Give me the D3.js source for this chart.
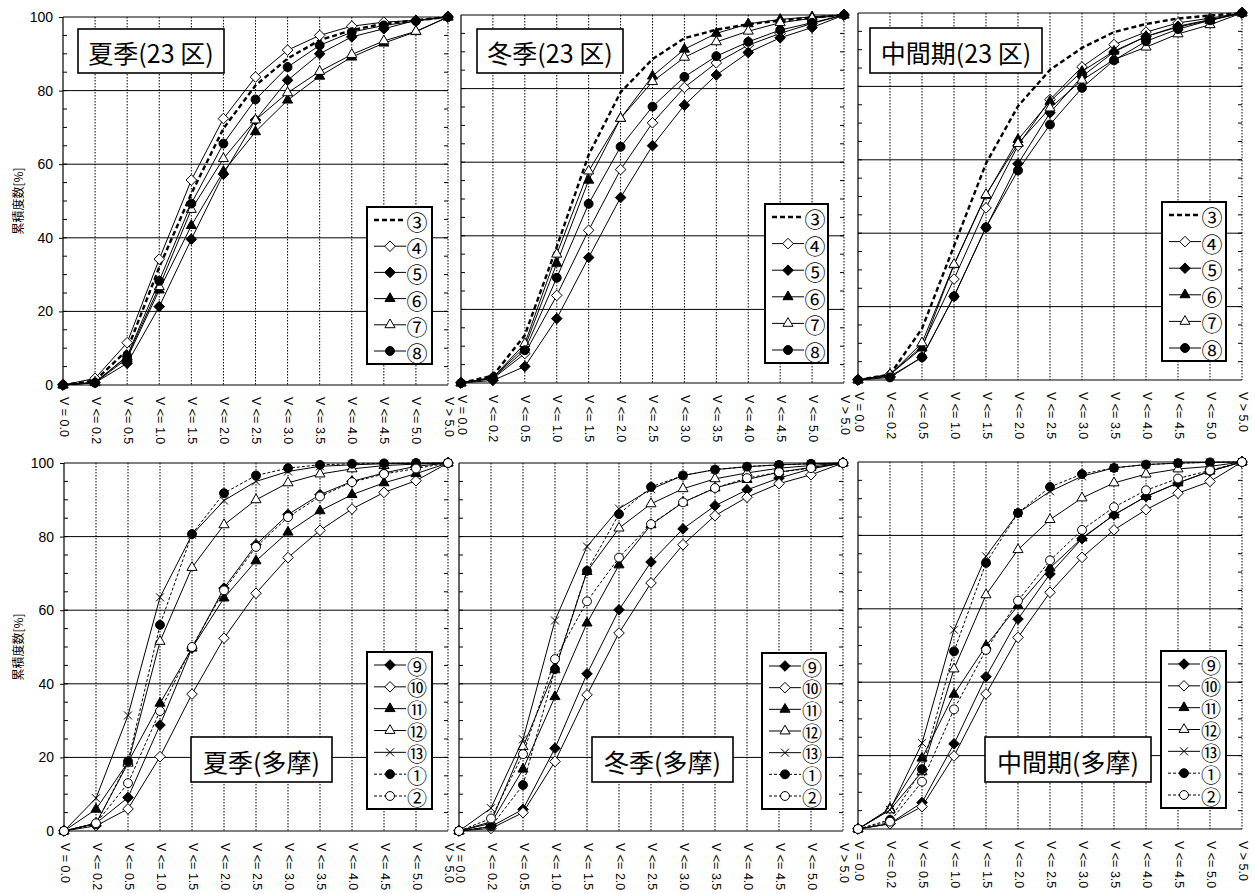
<!DOCTYPE html>
<html>
<head>
<meta charset="utf-8">
<script src="https://cdn.jsdelivr.net/npm/d3@7"></script>
<style>
  body { margin: 0; background: #fff; }
  svg { display: block; }
</style>
</head>
<body>
<svg id="chart" width="1255" height="893"></svg>
<script>
// DATA
const categories = ["V = 0.0", "V <= 0.2", "V <= 0.5", "V <= 1.0", "V <= 1.5", "V <= 2.0", "V <= 2.5",
    "V <= 3.0", "V <= 3.5", "V <= 4.0", "V <= 4.5", "V <= 5.0", "V > 5.0"];
const yTicks = [0, 20, 40, 60, 80, 100];
const seriesTop = ["③", "④", "⑤", "⑥", "⑦", "⑧"];
const seriesBottom = ["⑨", "⑩", "⑪", "⑫", "⑬", "①", "②"];
const titles = ["夏季(23 区)", "冬季(23 区)", "中間期(23 区)", "夏季(多摩)", "冬季(多摩)", "中間期(多摩)"];

// cumulative frequency [%], one row per series (same order as seriesTop / seriesBottom)
const summer23 = [
    [0, 1.2, 9.5, 32, 52, 69.7, 81.4, 88.7, 93.7, 96.4, 98.2, 99.1, 100],
    [0, 1.8, 11.5, 34.2, 55.7, 72.4, 83.7, 91, 95, 97.5, 98.6, 99.1, 100],
    [0, 0.6, 5.9, 21.3, 39.6, 57.3, 72, 82.8, 90, 94.6, 96.8, 99.1, 100],
    [0, 0.6, 7.2, 25.8, 43.3, 58, 68.8, 77.4, 83.9, 89.1, 92.9, 96, 100],
    [0, 0.8, 7.7, 26.7, 47.7, 61.5, 72, 79.4, 85.2, 89.8, 93.5, 96.1, 100],
    [0, 0.6, 7.9, 28.3, 49.3, 65.6, 77.6, 86.4, 92.3, 95.9, 97.7, 98.9, 100]
];
const winter23 = [
    [0, 2, 13, 37, 62, 79, 88, 93.7, 96, 97.5, 98.5, 99.3, 100],
    [0, 1.2, 8, 23.8, 41.5, 58, 70.7, 80.3, 87, 91.8, 95, 97.7, 100],
    [0, 0.7, 4.5, 17.5, 34.1, 50.4, 64.5, 75.5, 83.7, 89.8, 93.8, 96.6, 100],
    [0, 1.5, 9.8, 32.5, 55.1, 71.9, 83.4, 90.7, 95, 97.6, 98.8, 99.5, 100],
    [0, 1.5, 10.7, 35, 57.6, 71.9, 81.9, 88.5, 92.7, 95.6, 97.9, 99.1, 100],
    [0, 1.4, 8.9, 28.6, 48.7, 64.2, 75.1, 83.2, 88.8, 92.7, 95.9, 97.9, 100]
];
const mid23 = [
    [0, 1.5, 14, 36.5, 59, 74.6, 84.5, 90.5, 94.8, 97, 98.5, 99.3, 100],
    [0, 1.5, 9.2, 27.5, 46.9, 63.9, 76.4, 85.3, 91.4, 94.8, 97.3, 98.6, 100],
    [0, 1, 6.2, 22.8, 41.6, 58.9, 72.8, 82.7, 89.4, 93.6, 96.4, 98.2, 100],
    [0, 1.5, 8.7, 31.4, 50.3, 65.5, 75.9, 84.1, 89.6, 93.6, 96.2, 98, 100],
    [0, 1.5, 10.1, 31.5, 50.5, 64.4, 74.1, 81.7, 87.3, 90.7, 94.3, 96.8, 100],
    [0, 0.7, 6.2, 22.8, 41.6, 57.1, 69.6, 79.6, 87.1, 92.3, 95.6, 98, 100]
];
const summerTama = [
    [0, 2.1, 9.1, 28.8, 49.7, 66, 77.8, 86, 91.4, 95, 97.3, 99.1, 100],
    [0, 1.4, 6, 20.2, 37.2, 52.4, 64.6, 74.3, 81.7, 87.5, 92, 95.2, 100],
    [0, 5.9, 18.7, 34.7, 49.7, 63.3, 73.4, 81.2, 87, 91.4, 94.6, 97.1, 100],
    [0, 2.1, 18.4, 51.5, 71.6, 83.2, 90, 94.6, 97, 98.4, 99.3, 99.7, 100],
    [0, 8.9, 31.4, 63.5, 80.5, 89.8, 95, 97.7, 99.1, 99.5, 99.8, 99.9, 100],
    [0, 1.8, 18.9, 56, 80.7, 91.8, 96.6, 98.6, 99.5, 99.8, 99.9, 100, 100],
    [0, 2.1, 13, 32.6, 50, 65.4, 77.2, 85.3, 90.9, 94.8, 97, 98.5, 100]
];
const winterTama = [
    [0, 1.2, 5.9, 22.5, 42.7, 60.1, 73.1, 82.1, 88.4, 92.7, 95.9, 98.4, 100],
    [0, 0.7, 5, 18.9, 37, 53.8, 67.4, 77.8, 85.7, 90.7, 94.4, 96.8, 100],
    [0, 2.1, 16.8, 36.5, 56.5, 72.3, 83.2, 89.3, 93.2, 95.5, 97.5, 98.8, 100],
    [0, 2.5, 22.9, 43.8, 70.5, 82.3, 88.9, 93, 95.7, 97.3, 98.6, 99.3, 100],
    [0, 6.2, 24.9, 57.2, 77.3, 87.6, 92.9, 96.6, 98.2, 99, 99.5, 99.8, 100],
    [0, 1.2, 12.5, 44, 70.7, 86.1, 93.5, 96.6, 98.2, 99, 99.5, 99.8, 100],
    [0, 3.4, 20.9, 46.7, 62.4, 74.3, 83.4, 89.3, 93.2, 95.9, 97.5, 98.6, 100]
];
const midTama = [
    [0, 1.5, 7.2, 23.2, 41.5, 57.2, 69.5, 79.1, 85.6, 90.6, 94.3, 97.5, 100],
    [0, 1.4, 6.1, 19.9, 36.8, 52.2, 64.5, 74, 81.5, 87, 91.5, 94.7, 100],
    [0, 5.6, 19.3, 36.7, 49.9, 60.9, 71.1, 79.3, 85.6, 90.6, 94.3, 97.5, 100],
    [0, 5.2, 15.6, 43.6, 63.8, 76.1, 84.3, 90.2, 94.3, 96.7, 98.1, 98.8, 100],
    [0, 5.2, 23.4, 54.3, 74.3, 86.1, 92, 96.1, 98.4, 99.3, 99.7, 99.9, 100],
    [0, 2.5, 16.3, 48.4, 72.5, 86.1, 93.2, 96.7, 98.4, 99.3, 99.7, 99.9, 100],
    [0, 2, 12.9, 32.6, 48.8, 62.2, 73.2, 81.5, 87.7, 92.3, 95.5, 97.7, 100]
];

// ---------------------------------------------------------------------------------
// MARKER SHAPES

const diamondSq = {
    draw(ctx, size) {
        const r = Math.sqrt(size / 2);
        ctx.moveTo(0, -r); ctx.lineTo(r, 0); ctx.lineTo(0, r); ctx.lineTo(-r, 0); ctx.closePath();
    }
};
const timesX = {
    draw(ctx, size) {
        const r = Math.sqrt(size) / 2;
        ctx.moveTo(-r, -r); ctx.lineTo(r, r); ctx.moveTo(r, -r); ctx.lineTo(-r, r);
    }
};

// line / marker style for each series name
const styles = {
    "③": {type: null, dash: "5,3", width: 2.4},
    "④": {type: diamondSq, size: 56, fill: "#fff"},
    "⑤": {type: diamondSq, size: 56, fill: "#000"},
    "⑥": {type: d3.symbolTriangle, size: 44, fill: "#000"},
    "⑦": {type: d3.symbolTriangle, size: 44, fill: "#fff"},
    "⑧": {type: d3.symbolCircle, size: 62, fill: "#000"},
    "⑨": {type: diamondSq, size: 56, fill: "#000"},
    "⑩": {type: diamondSq, size: 56, fill: "#fff"},
    "⑪": {type: d3.symbolTriangle, size: 44, fill: "#000"},
    "⑫": {type: d3.symbolTriangle, size: 44, fill: "#fff"},
    "⑬": {type: timesX, size: 64, fill: "none"},
    "①": {type: d3.symbolCircle, size: 62, fill: "#000", dash: "3,2"},
    "②": {type: d3.symbolCircle, size: 62, fill: "#fff", dash: "3,2"}
};

// ---------------------------------------------------------------------------------
// PANEL LAYOUT

const panels = [
    {values: summer23, names: seriesTop, title: titles[0], l: 63, r: 448, t: 17, b: 385, yLabels: true,
        box: [78, 29, 146, 44], legend: [367, 207, 65, 157]},
    {values: winter23, names: seriesTop, title: titles[1], l: 461, r: 844, t: 15, b: 383, yLabels: false,
        box: [477, 29, 146, 44], legend: [765, 204, 63, 159]},
    {values: mid23, names: seriesTop, title: titles[2], l: 858, r: 1242, t: 13, b: 380, yLabels: false,
        box: [870, 28, 172, 45], legend: [1162, 202, 64, 159]},
    {values: summerTama, names: seriesBottom, title: titles[3], l: 64, r: 448, t: 463, b: 831, yLabels: true,
        box: [191, 737, 141, 45], legend: [367, 652, 65, 157]},
    {values: winterTama, names: seriesBottom, title: titles[4], l: 459, r: 843, t: 463, b: 831, yLabels: false,
        box: [592, 737, 141, 45], legend: [762, 653, 64, 156]},
    {values: midTama, names: seriesBottom, title: titles[5], l: 858, r: 1242, t: 462, b: 829, yLabels: false,
        box: [985, 737, 166, 45], legend: [1161, 651, 65, 157]}
];

const svg = d3.select("#chart");
const numFont = "'Liberation Sans', Arial, sans-serif";
const jpFont = "'Noto Sans CJK JP', sans-serif";

panels.forEach(function(p) {
    const x = d3.scalePoint().domain(categories).range([p.l, p.r]);
    const y = d3.scaleLinear().domain([0, 100]).range([p.b, p.t]);
    const g = svg.append("g");

    // dotted vertical grid at each category
    g.selectAll(".vgrid").data(categories.slice(1)).join("line")
        .attr("x1", d => x(d)).attr("x2", d => x(d))
        .attr("y1", p.t).attr("y2", p.b)
        .attr("stroke", "#000").attr("stroke-width", 1).attr("stroke-dasharray", "1.5,1.5");

    // solid horizontal grid
    g.selectAll(".hgrid").data(yTicks.slice(1)).join("line")
        .attr("x1", p.l).attr("x2", p.r)
        .attr("y1", d => y(d)).attr("y2", d => y(d))
        .attr("stroke", "#000").attr("stroke-width", 1);

    // frame: left and bottom axes
    g.append("line").attr("x1", p.l).attr("x2", p.l).attr("y1", p.t).attr("y2", p.b)
        .attr("stroke", "#000").attr("stroke-width", 1.2);
    g.append("line").attr("x1", p.l).attr("x2", p.r).attr("y1", p.b).attr("y2", p.b)
        .attr("stroke", "#000").attr("stroke-width", 1.2);

    // minor ticks every 5% on both sides
    const minor = d3.range(5, 100, 5);
    g.selectAll(".tl").data(minor).join("line")
        .attr("x1", p.l).attr("x2", p.l + 4)
        .attr("y1", d => y(d)).attr("y2", d => y(d))
        .attr("stroke", "#000");
    g.selectAll(".tr").data(minor).join("line")
        .attr("x1", p.r - 4).attr("x2", p.r)
        .attr("y1", d => y(d)).attr("y2", d => y(d))
        .attr("stroke", "#000");

    // y tick labels and axis title on the left panels
    if (p.yLabels) {
        const yAxis = g.append("g")
            .attr("transform", `translate(${p.l},0)`)
            .call(d3.axisLeft(y).tickValues(yTicks).tickSize(4).tickPadding(6));
        yAxis.select(".domain").remove();
        yAxis.selectAll("text").attr("font-family", numFont).attr("font-size", 14).attr("fill", "#000");
        g.append("text")
            .attr("transform", `translate(17,${(p.t + p.b) / 2}) rotate(-90)`)
            .attr("text-anchor", "middle")
            .attr("dominant-baseline", "central")
            .attr("font-family", jpFont)
            .attr("font-size", 12)
            .attr("fill", "#000")
            .text("累積度数[%]");
    }

    // rotated x labels
    const xAxis = g.append("g")
        .attr("transform", `translate(0,${p.b})`)
        .call(d3.axisBottom(x).tickSize(0).tickPadding(0));
    xAxis.select(".domain").remove();
    xAxis.selectAll("text")
        .attr("font-family", numFont)
        .attr("font-size", 12.5)
        .attr("fill", "#000")
        .attr("text-anchor", "start")
        .attr("dy", null)
        .attr("y", 0)
        .attr("transform", "translate(0,12) rotate(90)")
        .attr("dominant-baseline", "central");

    // series lines and markers
    p.names.forEach(function(name, i) {
        const st = styles[name];
        const pts = p.values[i];
        const line = d3.line().x((d, j) => x(categories[j])).y(d => y(d));
        g.append("path")
            .attr("d", line(pts))
            .attr("fill", "none")
            .attr("stroke", "#000")
            .attr("stroke-width", st.width || 1)
            .attr("stroke-dasharray", st.dash || null);
        if (st.type) {
            g.selectAll(null).data(pts).join("path")
                .attr("transform", (d, j) => `translate(${x(categories[j])},${y(d)})`)
                .attr("d", d3.symbol().type(st.type).size(st.size))
                .attr("fill", st.fill)
                .attr("stroke", "#000")
                .attr("stroke-width", 1);
        }
    });

    // title box
    const [bx, by, bw, bh] = p.box;
    g.append("rect").attr("x", bx).attr("y", by).attr("width", bw).attr("height", bh)
        .attr("fill", "#fff").attr("stroke", "#000").attr("stroke-width", 1.6);
    g.append("text")
        .attr("x", bx + bw / 2).attr("y", by + bh / 2 + 1)
        .attr("text-anchor", "middle")
        .attr("dominant-baseline", "central")
        .attr("font-family", jpFont)
        .attr("font-size", 25)
        .attr("fill", "#000")
        .text(p.title);

    // legend
    const [lx, ly, lw, lh] = p.legend;
    g.append("rect").attr("x", lx).attr("y", ly).attr("width", lw).attr("height", lh)
        .attr("fill", "#fff").attr("stroke", "#000").attr("stroke-width", 2);
    const n = p.names.length;
    const step = (lh - 26) / (n - 1);
    p.names.forEach(function(name, i) {
        const st = styles[name];
        const cy = ly + 13 + i * step;
        g.append("line")
            .attr("x1", lx + 7).attr("x2", lx + 39)
            .attr("y1", cy).attr("y2", cy)
            .attr("stroke", "#000")
            .attr("stroke-width", st.width || 1)
            .attr("stroke-dasharray", st.dash || null);
        if (st.type) {
            g.append("path")
                .attr("transform", `translate(${lx + 23},${cy})`)
                .attr("d", d3.symbol().type(st.type).size(st.size))
                .attr("fill", st.fill)
                .attr("stroke", "#000");
        }
        g.append("text")
            .attr("x", lx + 50).attr("y", cy + 1)
            .attr("text-anchor", "middle")
            .attr("dominant-baseline", "central")
            .attr("font-family", jpFont)
            .attr("font-size", n > 6 ? 20 : 21)
            .attr("fill", "#000")
            .text(name);
    });
});
</script>
</body>
</html>
